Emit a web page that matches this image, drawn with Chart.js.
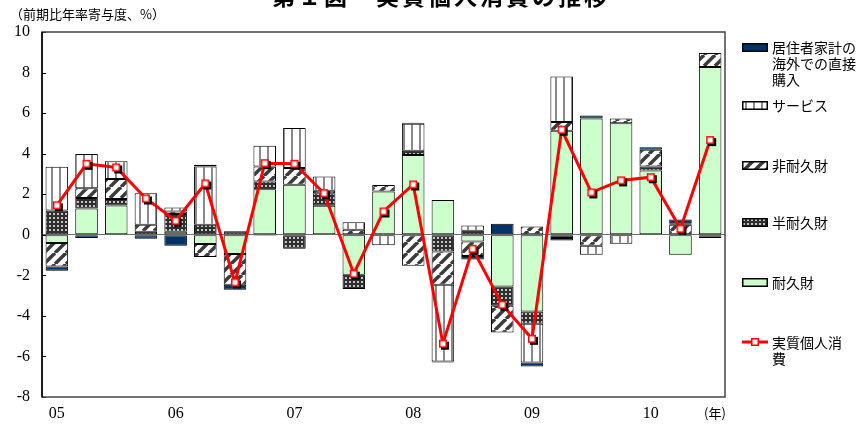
<!DOCTYPE html>
<html lang="ja">
<head>
<meta charset="utf-8">
<script src="https://cdn.jsdelivr.net/npm/chart.js@4.4.0/dist/chart.umd.min.js"></script>
<style>
  body { margin: 0; background: #fff; }
  #wrap { position: relative; width: 861px; height: 426px; overflow: hidden; }
  #chart { position: absolute; left: 0; top: 0; }
  .txt { position: absolute; white-space: nowrap; color: #000; font-family: "Noto Sans CJK JP", sans-serif; }
  .title { left: 272px; top: -17px; font-size: 23px; font-weight: bold; line-height: 24px; letter-spacing: 3px; }
  .ytitle { left: 10px; top: 5px; font-size: 13px; line-height: 18px; }
  .unit { left: 704px; top: 404px; font-size: 13px; line-height: 18px; }
  .leg { left: 772px; font-size: 14px; line-height: 16px; }
  .sw { position: absolute; left: 742px; }
</style>
</head>
<body>
<div id="wrap">
  <canvas id="chart" width="861" height="426"></canvas>
  <div class="txt title">第１図　実質個人消費の推移</div>
  <div class="txt ytitle">（前期比年率寄与度、%）</div>
  <div class="txt unit">(年)</div>
  <div id="legend"></div>
</div>
<script>
// quarters 2005Q1 - 2010Q3
const labels = ['05', '', '', '', '06', '', '', '', '07', '', '', '', '08', '', '', '', '09', '', '', '', '10', '', ''];

const yTicks = [-8, -6, -4, -2, 0, 2, 4, 6, 8, 10];

// contributions (%pt)
const durable    = [-0.41, 1.30, 1.45, 0, 0.15, -0.46, -0.95, 2.25, 2.47, 1.43, -1.97, 2.14, 3.94, 1.71, -0.33, -2.55, -3.78, 5.13, 5.74, 5.50, 3.17, -0.98, 8.27];
const semi       = [1.20, 0.51, 0.31, 0.15, 0.88, 0.49, 0.17, 0.38, -0.69, 0.62, -0.71, 0, 0.20, -0.82, 0.20, -0.95, -0.61, -0.16, 0, 0, 0.20, 0, -0.10];
const nondurable = [-1.15, 0.49, 0.99, 0.35, 0.12, -0.64, -1.52, 0.74, 0.82, 0.12, 0.25, 0.32, -1.53, -1.65, -0.72, -1.32, 0.41, 0.43, -0.54, 0.24, 0.82, 0.50, 0.69];
const services   = [2.15, 1.68, 0.88, 1.55, 0.20, 2.88, 0, 1.02, 1.97, 0.71, 0.37, -0.52, 1.33, -3.78, 0.26, 0, -1.91, 2.25, -0.45, -0.44, 0, 0.07, 0];
const overseas   = [-0.22, -0.16, 0, -0.20, -0.54, 0.08, -0.24, -0.05, 0, 0, 0, 0, 0.05, -0.05, -0.17, 0.54, -0.19, -0.12, 0.14, 0, 0.13, 0.18, -0.06];
const consumption = [1.45, 3.50, 3.32, 1.79, 0.69, 2.53, -2.35, 3.53, 3.50, 2.05, -1.92, 1.15, 2.48, -5.37, -0.69, -3.45, -5.13, 5.18, 2.09, 2.68, 2.84, 0.30, 4.67];

function makeTile(w, h, paint) {
    const c = document.createElement('canvas');
    c.width = w; c.height = h;
    paint(c.getContext('2d'));
    return c;
}
const pctx = document.getElementById('chart').getContext('2d');

const servicesFill = pctx.createPattern(makeTile(8, 8, g => {
    g.fillStyle = '#fff'; g.fillRect(0, 0, 8, 8);
    g.fillStyle = '#8a8a8a'; g.fillRect(3, 0, 2, 8);
}), 'repeat');

const nondurFill = pctx.createPattern(makeTile(11, 11, g => {
    g.fillStyle = '#fff'; g.fillRect(0, 0, 11, 11);
    g.strokeStyle = '#3c3c3c'; g.lineWidth = 3.5;
    [-11, 0, 11].forEach(o => {
        g.beginPath(); g.moveTo(o, 11); g.lineTo(o + 11, 0); g.stroke();
    });
}), 'repeat');

const semiFill = pctx.createPattern(makeTile(4, 4, g => {
    g.fillStyle = '#2e2e2e'; g.fillRect(0, 0, 4, 4);
    g.fillStyle = '#c4c4c4'; g.fillRect(1, 1, 2, 2);
}), 'repeat');

// white square marker with a small drop shadow
const marker = makeTile(16, 16, g => {
    g.fillStyle = '#000'; g.fillRect(6, 6, 8, 8);
    g.fillStyle = '#fff'; g.fillRect(4, 4, 8, 8);
    g.strokeStyle = '#ff0000'; g.lineWidth = 1.5;
    g.strokeRect(4.75, 4.75, 6.5, 6.5);
});

const barBase = {
    stack: 'bars',
    order: 1,
    borderColor: '#000',
    borderWidth: 1,
    borderSkipped: false,
    barPercentage: 0.76,
    categoryPercentage: 1.0
};

const series = [
    { label: '耐久財', data: durable, backgroundColor: '#ccffcc' },
    { label: '半耐久財', data: semi, backgroundColor: semiFill },
    { label: '非耐久財', data: nondurable, backgroundColor: nondurFill },
    { label: 'サービス', data: services, backgroundColor: servicesFill },
    { label: '居住者家計の海外での直接購入', data: overseas, backgroundColor: '#003366' }
];

const framePlugin = {
    id: 'frame',
    afterDatasetsDraw(chart) {
        const { ctx, chartArea: a, scales } = chart;
        ctx.save();
        ctx.strokeStyle = '#000';
        ctx.lineWidth = 1;
        yTicks.forEach(v => {
            const y = Math.round(scales.y.getPixelForValue(v)) + 0.5;
            ctx.beginPath(); ctx.moveTo(a.left, y); ctx.lineTo(a.left + 4, y); ctx.stroke();
        });
        ctx.strokeStyle = '#444';
        ctx.lineWidth = 1.5;
        ctx.strokeRect(a.left, a.top, a.right - a.left, a.bottom - a.top);
        ctx.strokeStyle = '#000';
        ctx.beginPath(); ctx.moveTo(a.left, a.top); ctx.lineTo(a.left, a.bottom); ctx.stroke();
        ctx.restore();
    }
};

new Chart(pctx, {
    type: 'bar',
    data: {
        labels: labels,
        datasets: [
            {
                type: 'line',
                label: '実質個人消費',
                data: consumption,
                stack: 'line',
                order: 0,
                borderColor: '#ff0000',
                borderWidth: 3,
                tension: 0,
                fill: false,
                pointStyle: marker,
                pointRadius: 5
            },
            ...series.map(s => Object.assign({}, barBase, s))
        ]
    },
    options: {
        responsive: false,
        animation: false,
        layout: { padding: { left: 0, right: 136, top: 32, bottom: 0 } },
        plugins: { legend: { display: false }, tooltip: { enabled: false } },
        scales: {
            x: {
                stacked: true,
                grid: { display: false, drawTicks: false },
                border: { display: false },
                ticks: {
                    autoSkip: false, maxRotation: 0, color: '#000', padding: 7,
                    font: { family: 'Liberation Serif', size: 16 }
                },
                afterFit(s) { s.height = 29; }
            },
            y: {
                stacked: true,
                min: -8,
                max: 10,
                grid: {
                    drawTicks: false,
                    lineWidth: 1,
                    color: c => (c.tick && c.tick.value === 0) ? '#6e6e6e' : 'rgba(0,0,0,0)'
                },
                border: { display: false },
                ticks: {
                    stepSize: 2, color: '#000', padding: 12,
                    font: { family: 'Liberation Serif', size: 16 }
                },
                afterFit(s) { s.width = 42; }
            }
        }
    },
    plugins: [framePlugin]
});

// legend, right side
const legendItems = [
    { lines: ['居住者家計の', '海外での直接', '購入'], fill: '#003366', y: 47 },
    { lines: ['サービス'], fill: servicesFill, y: 105 },
    { lines: ['非耐久財'], fill: nondurFill, y: 165 },
    { lines: ['半耐久財'], fill: semiFill, y: 222 },
    { lines: ['耐久財'], fill: '#ccffcc', y: 282 },
    { lines: ['実質個人消', '費'], line: true, y: 342 }
];
const legendBox = document.getElementById('legend');
legendItems.forEach(item => {
    const sw = document.createElement('canvas');
    sw.className = 'sw';
    if (item.line) {
        sw.width = 26; sw.height = 16;
        sw.style.top = (item.y - 8) + 'px';
        const g = sw.getContext('2d');
        g.strokeStyle = '#ff0000'; g.lineWidth = 3;
        g.beginPath(); g.moveTo(0, 8); g.lineTo(26, 8); g.stroke();
        g.fillStyle = '#fff'; g.fillRect(9, 4, 8, 8);
        g.strokeStyle = '#ff0000'; g.lineWidth = 1.5; g.strokeRect(9.75, 4.75, 6.5, 6.5);
    } else {
        sw.width = 26; sw.height = 9;
        sw.style.top = (item.y - 4) + 'px';
        const g = sw.getContext('2d');
        g.fillStyle = item.fill; g.fillRect(0, 0, 26, 9);
        g.strokeStyle = '#000'; g.lineWidth = 1.5; g.strokeRect(0.75, 0.75, 24.5, 7.5);
    }
    legendBox.appendChild(sw);
    const t = document.createElement('div');
    t.className = 'txt leg';
    t.style.top = (item.y - 8) + 'px';
    t.innerHTML = item.lines.join('<br>');
    legendBox.appendChild(t);
});
</script>
</body>
</html>
